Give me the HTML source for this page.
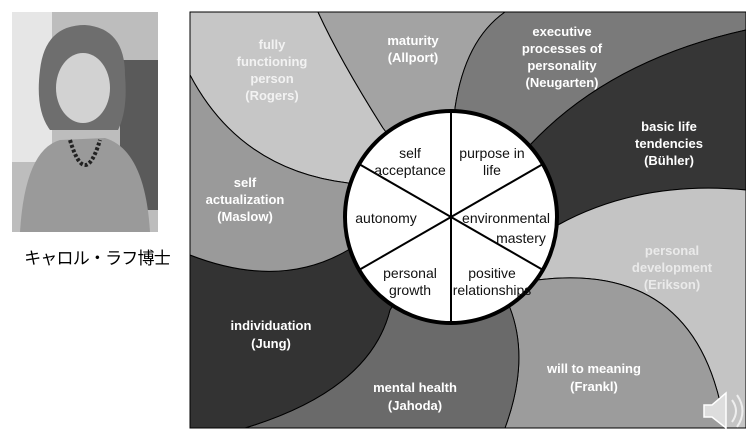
<!DOCTYPE html>
<html><head><meta charset="utf-8"><style>
html,body{margin:0;padding:0;background:#fff;width:746px;height:435px;overflow:hidden}
</style></head><body>
<svg width="746" height="435" viewBox="0 0 746 435" xmlns="http://www.w3.org/2000/svg" style="position:absolute;left:0;top:0">
<!-- photo -->
<rect x="12" y="12" width="146" height="220" fill="#bdbdbd"/>
<rect x="12" y="12" width="40" height="150" fill="#e6e6e6"/>
<rect x="120" y="60" width="38" height="150" fill="#5a5a5a"/>
<path d="M40 70 Q45 25 85 25 Q125 28 125 75 Q128 110 118 130 L50 130 Q35 110 40 70Z" fill="#6e6e6e"/>
<ellipse cx="83" cy="88" rx="27" ry="35" fill="#d2d2d2"/>
<path d="M20 232 Q25 150 60 140 L105 138 Q145 150 150 232Z" fill="#9a9a9a"/>
<path d="M70 140 Q85 190 100 140" stroke="#222" stroke-width="4" fill="none" stroke-dasharray="3 2"/>
<text x="97" y="264" font-family="Liberation Sans,'Noto Sans CJK JP',sans-serif" font-size="17" letter-spacing="-0.8" text-anchor="middle">キャロル・ラフ博士</text>
<!-- diagram background -->
<rect x="190" y="12" width="556" height="416" fill="#9a9a9a"/>
<path d="M451 217 L348 183 Q240 170 190 75 L190 12 L318 12 Q340 60 383 128Z" fill="#c6c6c6" stroke="#000" stroke-width="1"/>
<path d="M451 217 L383 128 Q340 60 318 12 L505 12 Q465 40 455 108Z" fill="#a3a3a3" stroke="#000" stroke-width="1"/>
<path d="M451 217 L455 108 Q465 40 505 12 L746 12 L746 30 Q610 60 530 145Z" fill="#7a7a7a" stroke="#000" stroke-width="1"/>
<path d="M451 217 L530 145 Q610 60 746 30 L746 190 Q640 180 558 225Z" fill="#363636" stroke="#000" stroke-width="1"/>
<path d="M451 217 L558 225 Q640 180 746 190 L746 428 L725 428 Q700 260 537 280Z" fill="#c4c4c4" stroke="#000" stroke-width="1"/>
<path d="M451 217 L537 280 Q700 260 725 428 L505 428 Q530 360 510 308Z" fill="#9c9c9c" stroke="#000" stroke-width="1"/>
<path d="M451 217 L510 308 Q530 360 505 428 L245 428 Q370 390 390 310Z" fill="#6a6a6a" stroke="#000" stroke-width="1"/>
<path d="M451 217 L390 310 Q370 390 245 428 L190 428 L190 255 Q280 290 348 250Z" fill="#333" stroke="#000" stroke-width="1"/>
<path d="M451 217 L348 250 Q280 290 190 255 L190 75 Q240 170 348 183Z" fill="#9a9a9a" stroke="#000" stroke-width="1"/>
<circle cx="451" cy="217" r="106" fill="#fff" stroke="#000" stroke-width="4"/>
<g stroke="#000" stroke-width="2">
<line x1="451" y1="111" x2="451" y2="323"/>
<line x1="451" y1="217" x2="359" y2="164"/>
<line x1="451" y1="217" x2="543" y2="164"/>
<line x1="451" y1="217" x2="359" y2="270"/>
<line x1="451" y1="217" x2="543" y2="270"/>
</g>
<g font-family="Liberation Sans,sans-serif" font-size="14" text-anchor="middle" fill="#111">
<text x="410" y="158">self</text><text x="410" y="175">acceptance</text>
<text x="492" y="158">purpose in</text><text x="492" y="175">life</text>
<text x="386" y="223">autonomy</text>
<text x="506" y="223">environmental</text><text x="521" y="243">mastery</text>
<text x="410" y="278">personal</text><text x="410" y="295">growth</text>
<text x="492" y="278">positive</text><text x="492" y="295">relationships</text>
</g>
<g font-family="Liberation Sans,sans-serif" font-size="13" font-weight="bold" text-anchor="middle" fill="#fff">
<text x="272" y="49" fill="#f2f2f2">fully</text><text x="272" y="66" fill="#f2f2f2">functioning</text><text x="272" y="83" fill="#f2f2f2">person</text><text x="272" y="100" fill="#f2f2f2">(Rogers)</text>
<text x="413" y="45">maturity</text><text x="413" y="62">(Allport)</text>
<text x="562" y="36">executive</text><text x="562" y="53">processes of</text><text x="562" y="70">personality</text><text x="562" y="87">(Neugarten)</text>
<text x="669" y="131">basic life</text><text x="669" y="148">tendencies</text><text x="669" y="165">(Bühler)</text>
<text x="245" y="187">self</text><text x="245" y="204">actualization</text><text x="245" y="221">(Maslow)</text>
<text x="672" y="255" fill="#eaeaea">personal</text><text x="672" y="272" fill="#eaeaea">development</text><text x="672" y="289" fill="#eaeaea">(Erikson)</text>
<text x="271" y="330">individuation</text><text x="271" y="348">(Jung)</text>
<text x="594" y="373">will to meaning</text><text x="594" y="391">(Frankl)</text>
<text x="415" y="392">mental health</text><text x="415" y="410">(Jahoda)</text>
</g>
<path d="M704 405 L712 405 L726 393 L726 428 L712 417 L704 417Z" fill="#ddd" stroke="#fff" stroke-width="1.5"/>
<path d="M732 400 Q740 411 732 422 M737 395 Q748 411 737 427" stroke="#eee" stroke-width="2" fill="none"/>
</svg>
</body></html>
